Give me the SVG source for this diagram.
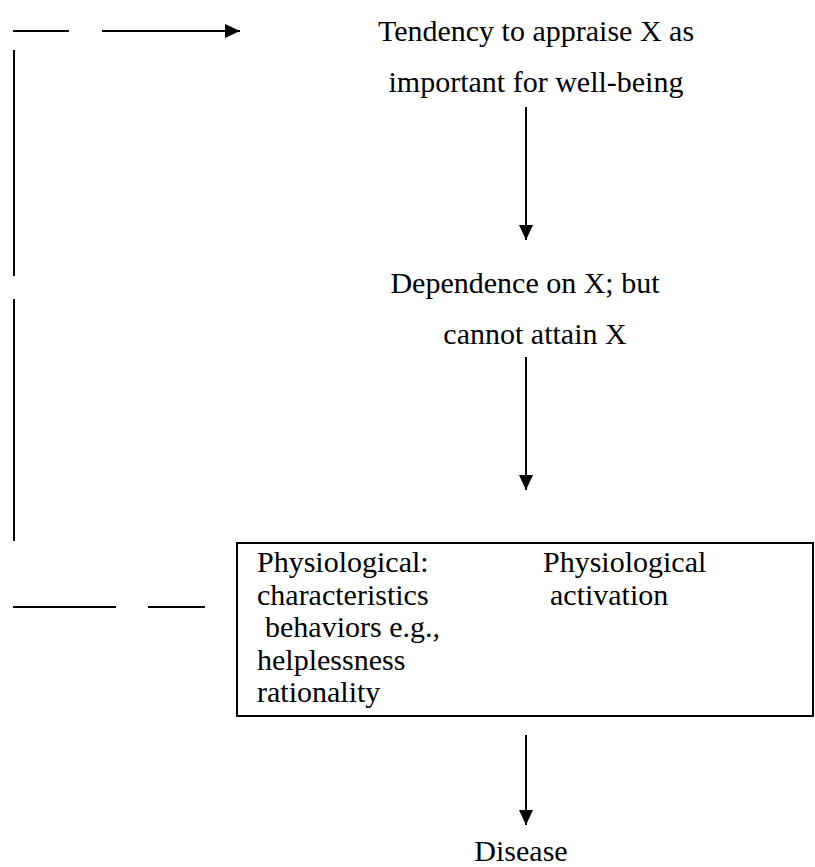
<svg xmlns="http://www.w3.org/2000/svg" width="815" height="867" viewBox="0 0 815 867">
<style>
text{font-family:"Liberation Serif","Times New Roman",serif;font-size:30px;fill:#000}
.c{text-anchor:middle}
.ln{stroke:#000;stroke-width:2;fill:none}
</style>
<defs>
<marker id="ah" markerUnits="userSpaceOnUse" markerWidth="16" markerHeight="16" refX="15" refY="7" orient="auto">
<path d="M0,0 L15,7 L0,14 Z" fill="#000"/>
</marker>
</defs>
<rect width="815" height="867" fill="#fff"/>
<g id="connectors">
<line class="ln" x1="13" y1="31" x2="69" y2="31"/>
<line class="ln" x1="102" y1="31" x2="240" y2="31" marker-end="url(#ah)"/>
<line class="ln" x1="14" y1="50" x2="14" y2="276"/>
<line class="ln" x1="14" y1="299" x2="14" y2="541"/>
<line class="ln" x1="13" y1="607" x2="116" y2="607"/>
<line class="ln" x1="148" y1="607" x2="205" y2="607"/>
<line class="ln" x1="526" y1="107" x2="526" y2="240" marker-end="url(#ah)"/>
<line class="ln" x1="526" y1="357" x2="526" y2="490" marker-end="url(#ah)"/>
<line class="ln" x1="526" y1="735" x2="526" y2="825" marker-end="url(#ah)"/>
</g>
<g id="node-tendency">
<text class="c" x="536" y="41">Tendency to appraise X as</text>
<text class="c" x="536" y="92">important for well-being</text>
</g>
<g id="node-dependence">
<text class="c" x="525" y="293">Dependence on X; but</text>
<text class="c" x="535" y="344">cannot attain X</text>
</g>
<g id="node-physiological">
<rect x="237" y="543" width="576" height="173" fill="none" stroke="#000" stroke-width="2"/>
<text x="257" y="572">Physiological:</text>
<text x="257" y="605">characteristics</text>
<text x="265" y="637">behaviors e.g.,</text>
<text x="257" y="670">helplessness</text>
<text x="257" y="702">rationality</text>
<text x="543" y="572">Physiological</text>
<text x="550" y="605">activation</text>
</g>
<g id="node-disease">
<text class="c" x="521" y="861">Disease</text>
</g>
</svg>
